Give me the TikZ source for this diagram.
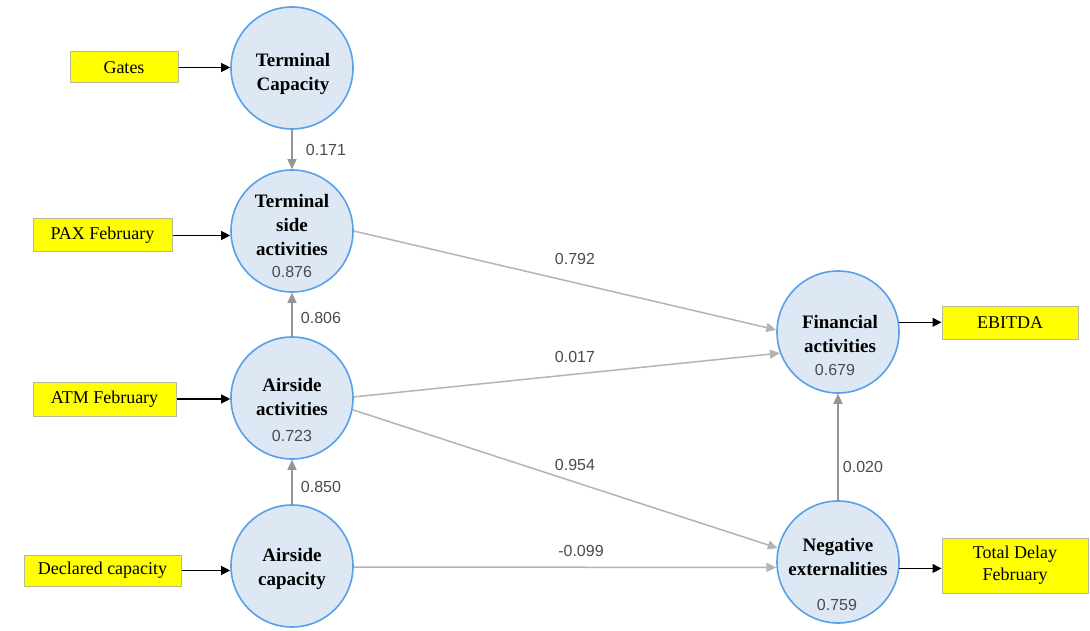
\documentclass[tikz,border=0pt]{standalone}
\usepackage{fontspec}
\setmainfont{Liberation Serif}
\newfontfamily\numfont{Liberation Sans}
\usetikzlibrary{arrows.meta}
\definecolor{latfill}{RGB}{221,232,244}
\definecolor{latborder}{RGB}{88,160,232}
\definecolor{boxborder}{RGB}{185,185,150}
\definecolor{boxfill}{RGB}{255,255,0}
\definecolor{edgelight}{RGB}{180,180,180}
\definecolor{edgedark}{RGB}{150,150,150}
\definecolor{valgray}{RGB}{75,75,75}
\tikzset{
  lat/.style={circle, draw=latborder, fill=latfill, line width=1.6pt, minimum size=122pt, inner sep=0pt},
  lattext/.style={font=\bfseries\fontsize{19}{24}\selectfont, align=center, inner sep=0pt},
  val/.style={font=\numfont\fontsize{16}{18}\selectfont, text=valgray, inner sep=0pt},
  ind/.style={rectangle, draw=boxborder, fill=boxfill, line width=1pt, font=\fontsize{18}{22}\selectfont, align=center, inner sep=0pt},
  blackarrow/.style={draw=black, line width=1.1pt, -{Triangle[length=9pt,width=9pt]}},
  grayarrow/.style={draw=edgelight, line width=1.5pt, -{Triangle[length=10pt,width=9pt]}},
  vgrayarrow/.style={draw=edgedark, line width=1.5pt, -{Triangle[length=10pt,width=9pt]}},
}
\begin{document}
\begin{tikzpicture}[x=1pt,y=-1pt]
\useasboundingbox[fill=white] (0,0) rectangle (1090,631);
% latent variables
\node[lat] (tc) at (292,68) {};
\node[lat] (tsa) at (292,231) {};
\node[lat] (aa) at (292,398) {};
\node[lat] (ac) at (292,566) {};
\node[lat] (fa) at (838,332) {};
\node[lat] (ne) at (838,562) {};
% latent texts
\node[lattext] (tctext) at (293,74) {Terminal\\Capacity};
\node[lattext] (tsatext) at (292,225) {Terminal\\side\\activities};
\node[val] (tsaval) at (292,272) {0.876};
\node[lattext] (aatext) at (292,397) {Airside\\activities};
\node[val] (aaval) at (292,436) {0.723};
\node[lattext] (actext) at (292,569) {Airside\\capacity};
\node[lattext] (fatext) at (840,334) {Financial\\activities};
\node[val] (faval) at (835,370) {0.679};
\node[lattext] (netext) at (838,557) {Negative\\externalities};
\node[val] (neval) at (837,605) {0.759};
% indicators
\node[ind, minimum width=108pt, minimum height=31pt] (gates) at (124,67.5) {Gates};
\node[ind, minimum width=139pt, minimum height=33pt] (pax) at (102.5,235.5) {PAX February};
\node[ind, minimum width=143pt, minimum height=34pt] (atm) at (104.5,399) {ATM February};
\node[ind, minimum width=157pt, minimum height=31pt] (decl) at (102.5,570.5) {Declared capacity};
\node[ind, minimum width=136pt, minimum height=33pt] (ebitda) at (1010,322.5) {EBITDA};
\node[ind, minimum width=146pt, minimum height=55pt] (tdf) at (1015,565.5) {Total Delay\\February};
% indicator arrows
\draw[blackarrow] (gates.east) -- (gates.east -| tc.west);
\draw[blackarrow] (pax.east) -- (pax.east -| tsa.west);
\draw[blackarrow] (atm.east) -- (atm.east -| aa.west);
\draw[blackarrow] (decl.east) -- (decl.east -| ac.west);
\draw[blackarrow] (fa.9) -- (fa.9 -| ebitda.west);
\draw[blackarrow] (ne.-6) -- (ne.-6 -| tdf.west);
% structural paths
\draw[vgrayarrow] (tc.south) -- (tsa.north);
\draw[vgrayarrow] (aa.north) -- (tsa.south);
\draw[vgrayarrow] (ac.north) -- (aa.south);
\draw[vgrayarrow] (ne.north) -- (fa.south);
\draw[grayarrow] (tsa.0) -- (fa.178);
\draw[grayarrow] (aa.1) -- (fa.200);
\draw[grayarrow] (aa.-11) -- (ne.167);
\draw[grayarrow] (ac.-1) -- (ne.185);
% path coefficients
\node[val] (p1) at (326,150) {0.171};
\node[val] (p2) at (321,318) {0.806};
\node[val] (p3) at (321,487) {0.850};
\node[val] (p4) at (575,259) {0.792};
\node[val] (p5) at (575,357) {0.017};
\node[val] (p6) at (575,465) {0.954};
\node[val] (p7) at (581,551) {-0.099};
\node[val] (p8) at (863,467) {0.020};
\end{tikzpicture}
\end{document}
